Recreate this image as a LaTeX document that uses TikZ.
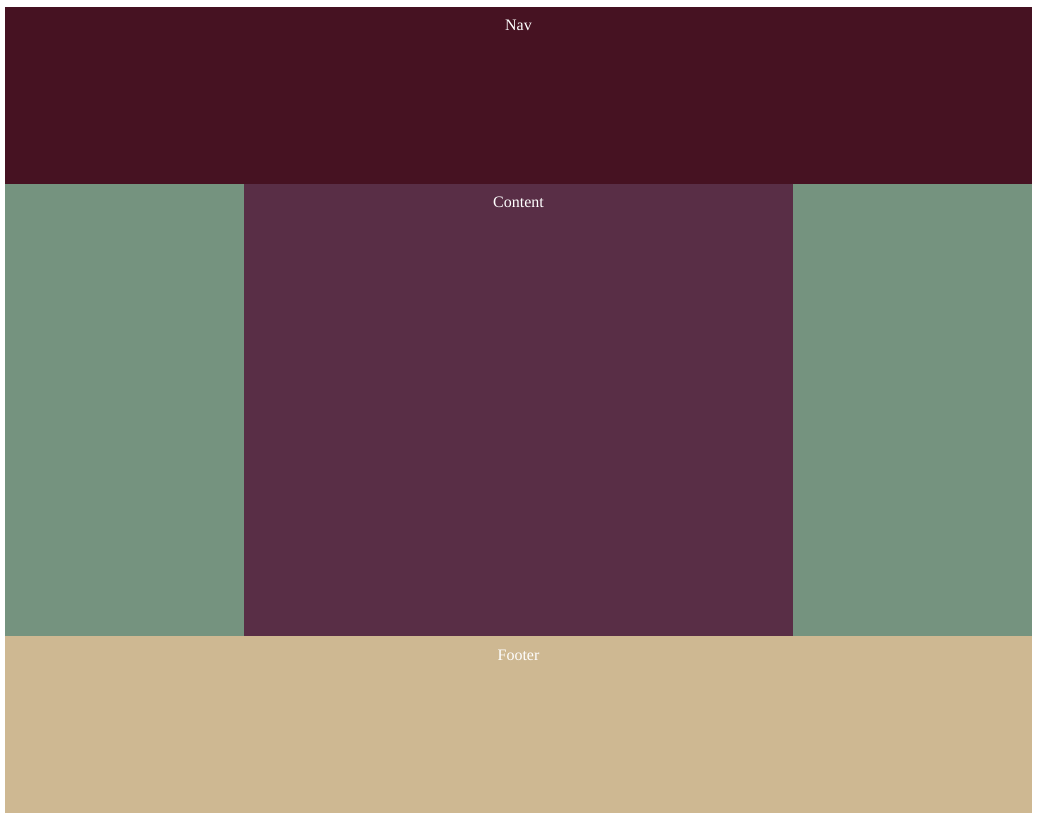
\documentclass[tikz,border=0pt]{standalone}
\usepackage{fontspec}
\setmainfont{Liberation Serif}
\definecolor{navc}{HTML}{461222}
\definecolor{sidec}{HTML}{75937F}
\definecolor{contc}{HTML}{592E46}
\definecolor{footc}{HTML}{CEB892}
\tikzset{
  region/.style={inner sep=0pt, outer sep=0pt, draw=none},
  lbl/.style={text=white, font=\fontsize{16}{19}\selectfont, anchor=base, inner sep=0pt}
}
\begin{document}
\begin{tikzpicture}[x=1pt,y=-1pt]
\useasboundingbox (0,0) rectangle (1037,819);
\fill[white] (0,0) rectangle (1037,819);
\fill[navc] (5,7) rectangle (1032,184);
\fill[sidec] (5,184) rectangle (244,636);
\fill[contc] (244,184) rectangle (793,636);
\fill[sidec] (793,184) rectangle (1032,636);
\fill[footc] (5,636) rectangle (1032,813);
\node[lbl] (nav) at (518.5,30.5) {Nav};
\node[lbl] (content) at (518.5,207.5) {Content};
\node[lbl] (footer) at (518.5,660) {Footer};
\end{tikzpicture}
\end{document}
